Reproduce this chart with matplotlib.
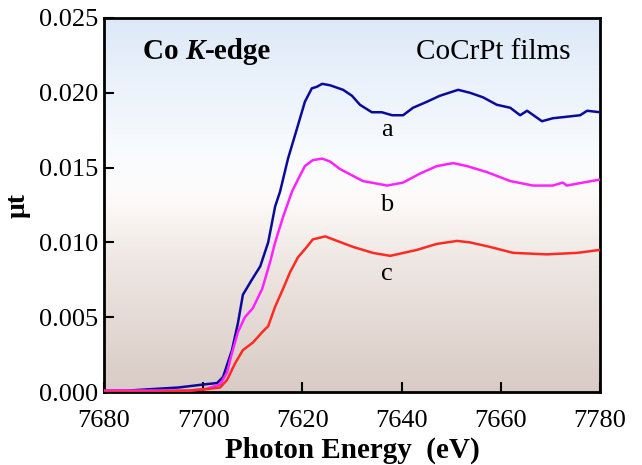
import numpy as np
import matplotlib
matplotlib.use("Agg")
import matplotlib.pyplot as plt
from matplotlib.colors import LinearSegmentedColormap
from matplotlib.offsetbox import TextArea, HPacker, AnchoredOffsetbox

plt.rcParams['font.family'] = ['Liberation Serif', 'DejaVu Serif']

# Data (energy in eV, absorption mu*t)
E_a = [7680, 7685, 7690, 7695, 7700, 7702.8, 7704.0, 7705.8, 7707.0, 7708.0, 7709.8, 7711.5,
       7713.1, 7714.5, 7715.5, 7717.1, 7718.9, 7720.5, 7721.9, 7722.9, 7724.0, 7725.6, 7728.2,
       7730.0, 7731.6, 7734.0, 7736.0, 7738.1, 7740.3, 7742.3, 7745.1, 7747.7, 7751.4, 7753.8,
       7756.4, 7759.2, 7761.9, 7763.9, 7765.3, 7768.3, 7770.5, 7773.3, 7776.0, 7777.4, 7780]
mu_a = [0.0001, 0.0001, 0.0002, 0.0003, 0.0005, 0.0006, 0.0010, 0.0028, 0.0046, 0.0065, 0.0075, 0.0084,
        0.0100, 0.0124, 0.0134, 0.0156, 0.0176, 0.0194, 0.0203, 0.0204, 0.0206, 0.0205, 0.0202,
        0.0198, 0.0192, 0.0187, 0.0187, 0.0185, 0.0185, 0.0190, 0.0194, 0.0198, 0.0202, 0.0200,
        0.0197, 0.0192, 0.0190, 0.0185, 0.0188, 0.0181, 0.0183, 0.0184, 0.0185, 0.0188, 0.0187]

E_b = [7680, 7690, 7697.3, 7700.5, 7703.4, 7704.8, 7705.8, 7707.0, 7708.4, 7710.0, 7711.9, 7713.5,
       7714.5, 7716.1, 7717.9, 7719.1, 7720.5, 7722.1, 7724.0, 7725.6, 7727.6, 7732.2, 7737.1,
       7740.3, 7743.7, 7747.1, 7750.4, 7753.2, 7757.2, 7761.9, 7766.5, 7770.5, 7772.5, 7773.3,
       7776.6, 7780]
mu_b = [0.0001, 0.0001, 0.0001, 0.0002, 0.0005, 0.0013, 0.0026, 0.0040, 0.0050, 0.0056, 0.0069, 0.0087,
        0.0100, 0.0117, 0.0134, 0.0142, 0.0151, 0.0155, 0.0156, 0.0154, 0.0149, 0.0141, 0.0138,
        0.0140, 0.0146, 0.0151, 0.0153, 0.0151, 0.0147, 0.0141, 0.0138, 0.0138, 0.0140, 0.0138,
        0.0140, 0.0142]

E_c = [7680, 7690, 7697.3, 7701.0, 7703.4, 7704.8, 7706.4, 7708.0, 7710.0, 7711.9, 7713.1, 7714.5,
       7716.1, 7717.5, 7719.1, 7720.9, 7722.1, 7724.6, 7726.2, 7730.2, 7734.2, 7737.7, 7743.1,
       7747.1, 7751.2, 7753.8, 7757.8, 7762.5, 7769.3, 7775.4, 7780]
mu_c = [0.0000, 0.0000, 0.0001, 0.0002, 0.0003, 0.0008, 0.0019, 0.0028, 0.0033, 0.0040, 0.0044, 0.0057,
        0.0069, 0.0080, 0.0090, 0.0097, 0.0102, 0.0104, 0.0102, 0.0097, 0.0093, 0.0091, 0.0095,
        0.0099, 0.0101, 0.0100, 0.0097, 0.0093, 0.0092, 0.0093, 0.0095]

xtick_pos = [7680, 7700, 7720, 7740, 7760, 7780]
xtick_labels = ["7680", "7700", "7620", "7640", "7660", "7780"]
ytick_pos = [0.000, 0.005, 0.010, 0.015, 0.020, 0.025]
ytick_labels = ["0.000", "0.005", "0.010", "0.015", "0.020", "0.025"]

fig = plt.figure(figsize=(6.42, 4.65), dpi=100)
ax = fig.add_axes([104/642, 73/465, 496/642, 374/465])

# background gradient (bottom -> top)
cmap = LinearSegmentedColormap.from_list(
    "bg", [(0.0, "#d9cbc5"), (0.35, "#efe7e3"), (0.52, "#fdfbfa"),
           (0.62, "#fafcfe"), (1.0, "#dde9f8")])
grad = np.linspace(0, 1, 256).reshape(-1, 1)
ax.imshow(grad, aspect='auto', cmap=cmap, origin='lower',
          extent=[7680, 7780, 0, 0.025], zorder=0)

ax.plot(E_a, mu_a, color="#0a0a9c", lw=1.8, zorder=3)
ax.plot(E_b, mu_b, color="#ff22ff", lw=1.8, zorder=3)
ax.plot(E_c, mu_c, color="#ff2a22", lw=1.8, zorder=3)

ax.set_xlim(7680, 7780)
ax.set_ylim(0, 0.025)
ax.set_xticks(xtick_pos)
ax.set_xticklabels(xtick_labels)
ax.set_yticks(ytick_pos)
ax.set_yticklabels(ytick_labels)
ax.tick_params(direction='in', length=7, width=1.5, labelsize=19)
ax.tick_params(axis='x', pad=13)
ax.tick_params(axis='y', pad=4)
for s in ax.spines.values():
    s.set_linewidth(2.0)

ax.set_xlabel("Photon Energy  (eV)", fontsize=21, fontweight='bold', labelpad=3.5)
ax.set_ylabel("μt", fontsize=20, fontweight='bold', labelpad=6)

ax.text(7737.0, 0.0175, "a", fontsize=19, ha='center', va='center', zorder=4)
ax.text(7737.0, 0.0125, "b", fontsize=19, ha='center', va='center', zorder=4)
ax.text(7737.0, 0.0079, "c", fontsize=19, ha='center', va='center', zorder=4)

ax.text(0.94, 0.91, "CoCrPt films", transform=ax.transAxes, fontsize=21,
        ha='right', va='center', zorder=4)

t1 = TextArea("Co ", textprops=dict(fontsize=21, fontweight='bold'))
t2 = TextArea("K", textprops=dict(fontsize=21, fontweight='bold', fontstyle='italic'))
t3 = TextArea("-edge", textprops=dict(fontsize=21, fontweight='bold'))
box = HPacker(children=[t1, t2, t3], align="baseline", pad=0, sep=0)
anch = AnchoredOffsetbox(loc='center left', child=box, frameon=False,
                         bbox_to_anchor=(0.078, 0.91), bbox_transform=ax.transAxes,
                         borderpad=0, pad=0)
anch.set_zorder(4)
ax.add_artist(anch)

fig.savefig("out.png", dpi=100)
